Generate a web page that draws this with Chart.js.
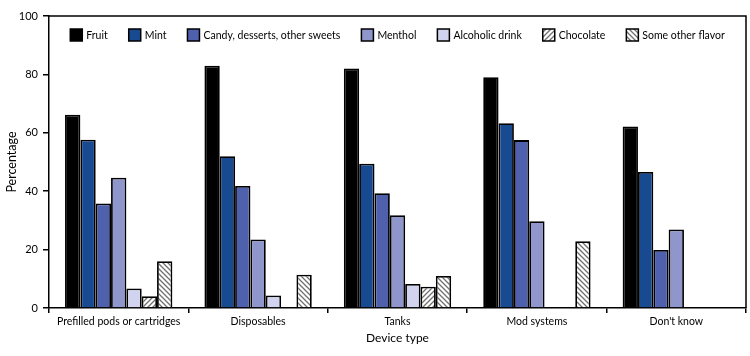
<!DOCTYPE html>
<html>
<head>
<meta charset="utf-8">
<script src="https://cdn.jsdelivr.net/npm/chart.js@4.4.0/dist/chart.umd.min.js"></script>
<style>
html,body{margin:0;padding:0;background:#fff;}
#wrap{width:750px;height:356px;}
</style>
</head>
<body>
<div id="wrap"><canvas id="c" width="750" height="356"></canvas></div>
<script>
const categories = ["Prefilled pods or cartridges", "Disposables", "Tanks", "Mod systems", "Don't know"];
const fruit      = [66.2, 83.0, 82.0, 79.0, 62.2];
const mint       = [57.6, 52.0, 49.4, 63.3, 46.6];
const candy      = [35.8, 41.8, 39.3, 57.5, 19.9];
const menthol    = [44.6, 23.5, 31.8, 29.7, 26.9];
const alcoholic  = [6.7, 4.3, 8.2, null, null];
const chocolate  = [4.0, null, 7.3, null, null];
const otherFlav  = [16.0, 11.4, 11.0, 22.9, null];
const yTicks     = [0, 20, 40, 60, 80, 100];

function hatch(dir) {
  const s = 5;
  const c = document.createElement('canvas');
  c.width = s; c.height = s;
  const g = c.getContext('2d');
  g.fillStyle = '#ffffff';
  g.fillRect(0, 0, s, s);
  g.strokeStyle = '#707070';
  g.lineWidth = 1.3;
  g.beginPath();
  if (dir === '/') {
    g.moveTo(0, s); g.lineTo(s, 0);
    g.moveTo(-s/2, s/2); g.lineTo(s/2, -s/2);
    g.moveTo(s/2, s + s/2); g.lineTo(s + s/2, s/2);
  } else {
    g.moveTo(0, 0); g.lineTo(s, s);
    g.moveTo(-s/2, s/2); g.lineTo(s/2, s + s/2);
    g.moveTo(s/2, -s/2); g.lineTo(s + s/2, s/2);
  }
  g.stroke();
  return g.createPattern(c, 'repeat');
}

const FONT = "Lato, 'Liberation Sans', sans-serif";
const LEG_FONT = "10.5px " + FONT;

function ds(label, data, color) {
  return {label, data, backgroundColor: color, borderColor: '#000', borderWidth: 1.8, borderSkipped: 'bottom'};
}

const framePlugin = {
  id: 'frame',
  afterDatasetsDraw(chart) {
    const {ctx, chartArea: a} = chart;
    ctx.save();
    ctx.strokeStyle = '#000';
    ctx.lineWidth = 1.5;
    ctx.beginPath();
    ctx.moveTo(a.left, a.top);
    ctx.lineTo(a.right, a.top);
    ctx.lineTo(a.right, a.bottom);
    ctx.stroke();
    ctx.restore();
  }
};

const inlineLegend = {
  id: 'inlineLegend',
  afterDraw(chart) {
    const {ctx, chartArea: a} = chart;
    const box = 12, gapText = 4, gapItem = 21;
    ctx.save();
    ctx.font = LEG_FONT;
    const items = chart.data.datasets.map(d => ({label: d.label, fill: d.backgroundColor, w: ctx.measureText(d.label).width}));
    const total = items.reduce((s, it) => s + box + gapText + it.w, 0) + gapItem * (items.length - 1);
    let x = (a.left + a.right) / 2 - total / 2;
    const yTop = a.top + 13;
    ctx.textBaseline = 'middle';
    items.forEach(it => {
      ctx.fillStyle = it.fill;
      ctx.fillRect(x, yTop, box, box);
      ctx.strokeStyle = '#000';
      ctx.lineWidth = 1.5;
      ctx.strokeRect(x, yTop, box, box);
      ctx.fillStyle = '#000';
      ctx.fillText(it.label, x + box + gapText, yTop + box / 2 + 0.5);
      x += box + gapText + it.w + gapItem;
    });
    ctx.restore();
  }
};

new Chart(document.getElementById('c'), {
  type: 'bar',
  data: {
    labels: categories,
    datasets: [
      ds('Fruit', fruit, '#000000'),
      ds('Mint', mint, '#174a91'),
      ds('Candy, desserts, other sweets', candy, '#4f61ac'),
      ds('Menthol', menthol, '#8f96cc'),
      ds('Alcoholic drink', alcoholic, '#d2d4ef'),
      ds('Chocolate', chocolate, hatch('/')),
      ds('Some other flavor', otherFlav, hatch('\\'))
    ]
  },
  options: {
    responsive: false,
    animation: false,
    devicePixelRatio: 1,
    layout: {padding: {top: 16, right: 4, left: 0, bottom: 0}},
    datasets: {bar: {categoryPercentage: 0.77, barPercentage: 1.0}},
    plugins: {
      tooltip: {enabled: false},
      legend: {display: false}
    },
    scales: {
      x: {
        grid: {display: true, drawOnChartArea: false, offset: true, color: '#000', lineWidth: 1.5, tickLength: 5},
        border: {display: true, color: '#000', width: 1.5},
        ticks: {font: {family: FONT, size: 10.5}, color: '#000', padding: 2, maxRotation: 0, autoSkip: false},
        title: {display: true, text: 'Device type', font: {family: FONT, size: 12}, color: '#000', padding: {top: 0, bottom: 11}},
        afterFit(s) { s.height = 48; }
      },
      y: {
        min: 0, max: 100,
        afterBuildTicks(s) { s.ticks = yTicks.map(v => ({value: v})); },
        grid: {display: true, drawOnChartArea: false, color: '#000', lineWidth: 1.5, tickLength: 6},
        border: {display: true, color: '#000', width: 1.5},
        ticks: {font: {family: FONT, size: 11}, color: '#000', padding: 5},
        title: {display: true, text: 'Percentage', font: {family: FONT, size: 12.5}, color: '#000', padding: {bottom: 6}},
        afterFit(s) { s.width = 49; }
      }
    }
  },
  plugins: [framePlugin, inlineLegend]
});
</script>
</body>
</html>
